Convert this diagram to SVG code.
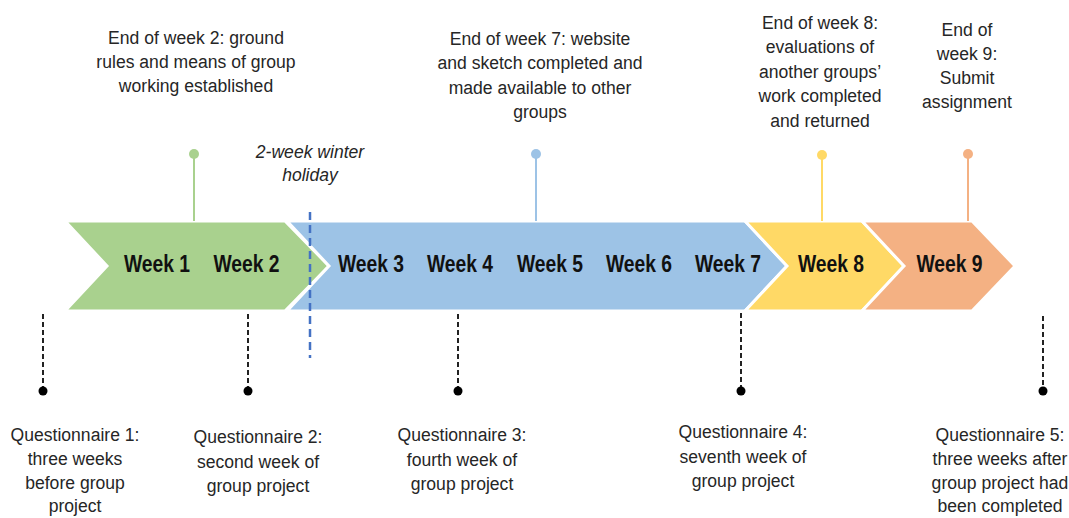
<svg xmlns="http://www.w3.org/2000/svg" width="1069" height="518" viewBox="0 0 1069 518">
<style>
.lbl{font-family:"Liberation Sans",Arial,sans-serif;font-size:19px;fill:#262626;text-anchor:middle}
.it{font-style:italic}
.wk{font-family:"Liberation Sans",Arial,sans-serif;font-size:23px;font-weight:bold;fill:#111;text-anchor:middle}
.chev{stroke:#fff;stroke-width:3;stroke-linejoin:miter}
.q{stroke:#222;stroke-width:2;stroke-dasharray:5 3;fill:none}
.pin{stroke-width:2;fill:none}
</style>
<rect width="1069" height="518" fill="#fff"/>
<g id="chevrons">
<g id="week1-2"><polygon class="chev" fill="#A9D18E" points="65,221 285,221 329,266 285,311 65,311 107,266"/>
<text class="wk" transform="translate(157,272) scale(0.84,1)">Week 1</text>
<text class="wk" transform="translate(246.5,272) scale(0.84,1)">Week 2</text></g>
<g id="week3-7"><polygon class="chev" fill="#9DC3E6" points="287,221 745,221 787,266 745,311 287,311 329,266"/>
<text class="wk" transform="translate(371,272) scale(0.84,1)">Week 3</text>
<text class="wk" transform="translate(460,272) scale(0.84,1)">Week 4</text>
<text class="wk" transform="translate(550,272) scale(0.84,1)">Week 5</text>
<text class="wk" transform="translate(639,272) scale(0.84,1)">Week 6</text>
<text class="wk" transform="translate(728,272) scale(0.84,1)">Week 7</text></g>
<g id="week8"><polygon class="chev" fill="#FFD966" points="745,221 862,221 904,266 862,311 745,311 787,266"/>
<text class="wk" transform="translate(831,272) scale(0.84,1)">Week 8</text></g>
<g id="week9"><polygon class="chev" fill="#F4B183" points="862,221 972,221 1015,266 972,311 862,311 904,266"/>
<text class="wk" transform="translate(949.5,272) scale(0.84,1)">Week 9</text></g>
</g>
<g id="connectors">
<line x1="310" y1="212" x2="310" y2="358" stroke="#4472C4" stroke-width="2.5" stroke-dasharray="8 5"/>
<line class="pin" stroke="#A9D18E" x1="194" y1="154" x2="194" y2="221"/><circle cx="194" cy="154" r="5" fill="#A9D18E"/>
<line class="pin" stroke="#9DC3E6" x1="536" y1="154" x2="536" y2="221"/><circle cx="536" cy="154" r="5" fill="#9DC3E6"/>
<line class="pin" stroke="#FFD966" x1="822" y1="155" x2="822" y2="221"/><circle cx="822" cy="155" r="5" fill="#FFD966"/>
<line class="pin" stroke="#F4B183" x1="968" y1="154" x2="968" y2="221"/><circle cx="968" cy="154" r="5" fill="#F4B183"/>
<line class="q" x1="43" y1="314" x2="43" y2="391"/><circle cx="43" cy="391" r="4.5" fill="#000"/>
<line class="q" x1="248" y1="314" x2="248" y2="391"/><circle cx="248" cy="391" r="4.5" fill="#000"/>
<line class="q" x1="458" y1="314" x2="458" y2="391"/><circle cx="458" cy="391" r="4.5" fill="#000"/>
<line class="q" x1="741" y1="313" x2="741" y2="391"/><circle cx="741" cy="391" r="4.5" fill="#000"/>
<line class="q" x1="1043" y1="316" x2="1043" y2="391"/><circle cx="1043" cy="391" r="4.5" fill="#000"/>
</g>
<g id="label-week2"><text class="lbl" transform="translate(196,0) scale(0.925,1)"><tspan x="0" y="44">End of week 2: ground</tspan><tspan x="0" y="68">rules and means of group</tspan><tspan x="0" y="92">working established</tspan></text></g>
<g id="label-holiday"><text class="lbl it" transform="translate(310,0) scale(0.925,1)"><tspan x="0" y="158">2-week winter</tspan><tspan x="0" y="181">holiday</tspan></text></g>
<g id="label-week7"><text class="lbl" transform="translate(540,0) scale(0.925,1)"><tspan x="0" y="45">End of week 7: website</tspan><tspan x="0" y="69">and sketch completed and</tspan><tspan x="0" y="94">made available to other</tspan><tspan x="0" y="118">groups</tspan></text></g>
<g id="label-week8"><text class="lbl" transform="translate(820,0) scale(0.925,1)"><tspan x="0" y="29">End of week 8:</tspan><tspan x="0" y="53">evaluations of</tspan><tspan x="0" y="78">another groups’</tspan><tspan x="0" y="102">work completed</tspan><tspan x="0" y="127">and returned</tspan></text></g>
<g id="label-week9"><text class="lbl" transform="translate(967,0) scale(0.925,1)"><tspan x="0" y="36">End of</tspan><tspan x="0" y="60">week 9:</tspan><tspan x="0" y="84">Submit</tspan><tspan x="0" y="108">assignment</tspan></text></g>
<g id="q1"><text class="lbl" transform="translate(75,0) scale(0.925,1)"><tspan x="0" y="441">Questionnaire 1:</tspan><tspan x="0" y="465">three weeks</tspan><tspan x="0" y="489">before group</tspan><tspan x="0" y="512">project</tspan></text></g>
<g id="q2"><text class="lbl" transform="translate(258,0) scale(0.925,1)"><tspan x="0" y="443">Questionnaire 2:</tspan><tspan x="0" y="468">second week of</tspan><tspan x="0" y="492">group project</tspan></text></g>
<g id="q3"><text class="lbl" transform="translate(462,0) scale(0.925,1)"><tspan x="0" y="441">Questionnaire 3:</tspan><tspan x="0" y="466">fourth week of</tspan><tspan x="0" y="490">group project</tspan></text></g>
<g id="q4"><text class="lbl" transform="translate(743,0) scale(0.925,1)"><tspan x="0" y="438">Questionnaire 4:</tspan><tspan x="0" y="463">seventh week of</tspan><tspan x="0" y="487">group project</tspan></text></g>
<g id="q5"><text class="lbl" transform="translate(1000,0) scale(0.925,1)"><tspan x="0" y="441">Questionnaire 5:</tspan><tspan x="0" y="465">three weeks after</tspan><tspan x="0" y="489">group project had</tspan><tspan x="0" y="512">been completed</tspan></text></g>
</svg>
